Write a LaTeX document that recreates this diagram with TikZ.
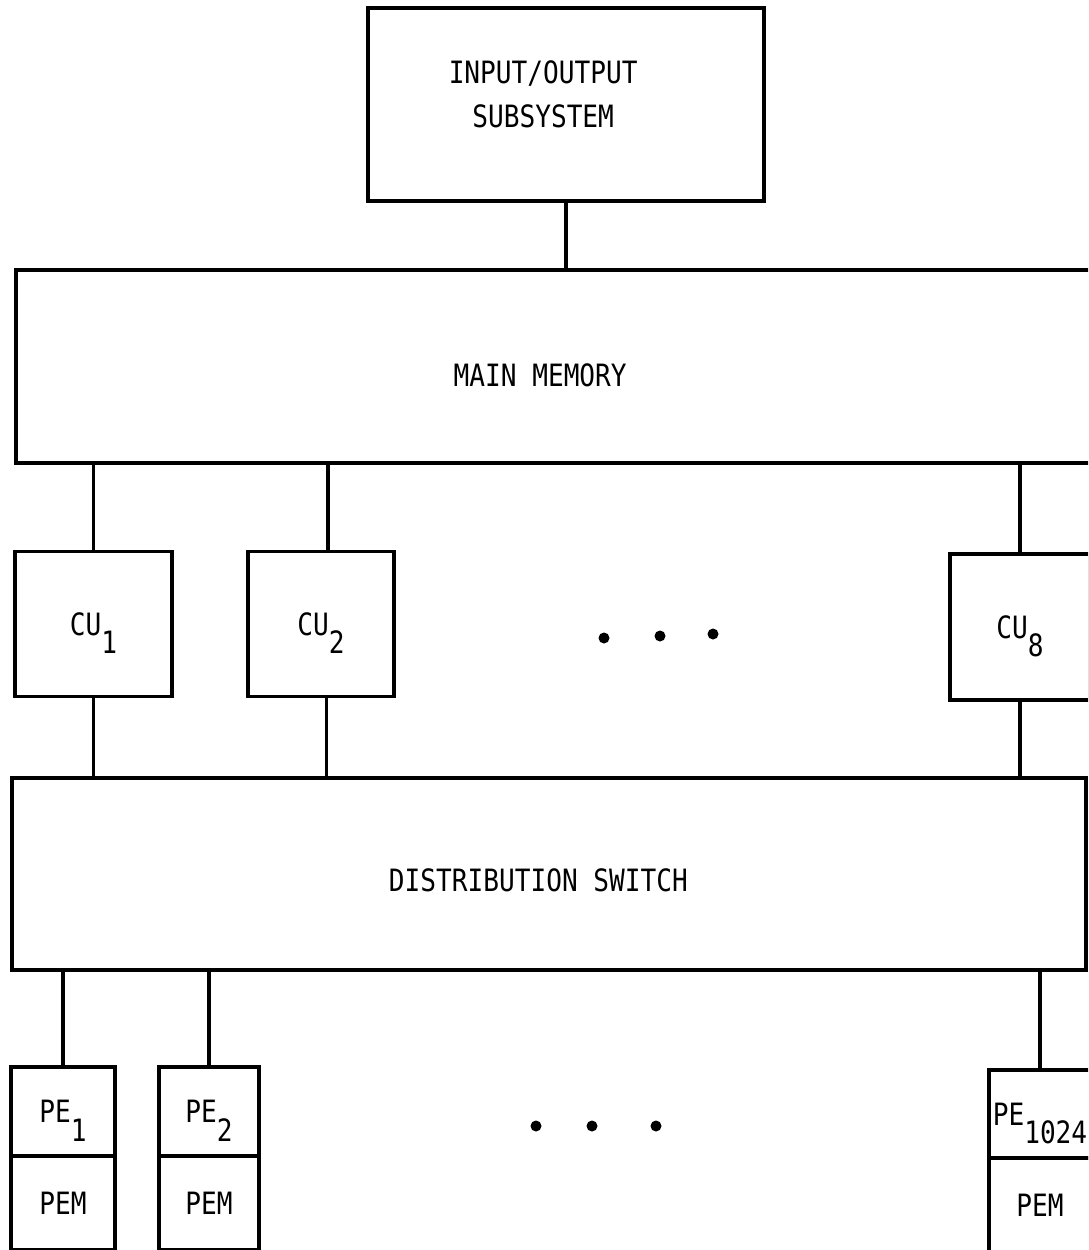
\documentclass[tikz,border=0pt]{standalone}
\usepackage{fontspec}
\setmonofont[FakeStretch=0.85]{DejaVu Sans Mono}
\usepackage{tikz}
\usetikzlibrary{positioning}
\newcommand{\lowsub}[1]{\raisebox{-0.6em}{#1}}

\begin{document}
\begin{tikzpicture}[x=0.02cm,y=-0.02cm,
    blk/.style={draw,line width=2pt,outer sep=0pt,inner sep=0pt,text depth=0pt,
        font=\fontsize{17.5}{25}\selectfont\ttfamily},
    lbl/.style={font=\fontsize{17.5}{25}\selectfont\ttfamily,align=center},
    wire/.style={line width=2pt},
    dotmark/.style={fill=black}]
        \useasboundingbox (0,0) rectangle (1088,1250);
        \clip (0,0) rectangle (1088,1250);
        % upper part
        \node[blk,minimum width=7.92cm,minimum height=3.86cm,
            label={[lbl,xshift=-13pt,yshift=6pt]center:INPUT/OUTPUT\\SUBSYSTEM}] (io) at (566,104.5) {};
        \node[blk,minimum width=21.88cm,minimum height=3.86cm,
            label={[lbl,xshift=-13pt,yshift=-5pt]center:MAIN MEMORY}] (mm) at (563,366.5) {};
        \node[blk,minimum width=3.14cm,minimum height=2.9cm] (cu1) at (93.5,624) {CU\lowsub{1}};
        \node[blk,minimum width=2.92cm,minimum height=2.9cm] (cu2) at (321,624) {CU\lowsub{2}};
        \node[blk,minimum width=2.8cm,minimum height=2.92cm] (cu8) at (1020,627) {CU\lowsub{8}};
        \node[blk,minimum width=21.48cm,minimum height=3.84cm,
            label={[lbl,xshift=-6pt,yshift=-3.4pt]center:DISTRIBUTION SWITCH}] (ds) at (549,874) {};
        % processing elements
        \node[blk,minimum width=2.08cm,minimum height=1.78cm] (pe1) at (63,1111.5) {PE\lowsub{1}};
        \node[blk,minimum width=2.08cm,minimum height=1.88cm,below=0pt of pe1] (pem1) {PEM};
        \node[blk,minimum width=2cm,minimum height=1.78cm] (pe2) at (209,1111.5) {PE\lowsub{2}};
        \node[blk,minimum width=2cm,minimum height=1.88cm,below=0pt of pe2] (pem2) {PEM};
        \node[blk,minimum width=2.04cm,minimum height=1.76cm] (pen) at (1040,1114) {PE\lowsub{1024}};
        \node[blk,minimum width=2.04cm,minimum height=1.88cm,below=0pt of pen] (pemn) {PEM};
        \draw[wire] (io.south)--(io.south |- mm.north);
         \draw[wire] (cu1.north |- mm.south)--(cu1.north);
         \draw[wire] ([xshift=4pt]cu2.north |- mm.south)--([xshift=4pt]cu2.north);
         \draw[wire] (cu8.north |- mm.south)--(cu8.north);
        \draw[wire] (cu1.south)--(cu1.south |- ds.north);
         \draw[wire] ([xshift=3pt]cu2.south)--([xshift=3pt]cu2.south |- ds.north);
         \draw[wire] (cu8.south)--(cu8.south |- ds.north);
        \draw[wire] (pe1.north |- ds.south)--(pe1.north);
         \draw[wire] (pe2.north |- ds.south)--(pe2.north);
         \draw[wire] (pen.north |- ds.south)--(pen.north);
        % ellipses
        \fill[dotmark] (604,638) circle (5.5);
        \fill[dotmark] (660,636) circle (5.5);
        \fill[dotmark] (713,634) circle (5.5);
        \fill[dotmark] (536,1126) circle (5.5);
        \fill[dotmark] (592,1126) circle (5.5);
        \fill[dotmark] (656,1126) circle (5.5);
    \end{tikzpicture}
\end{document}
